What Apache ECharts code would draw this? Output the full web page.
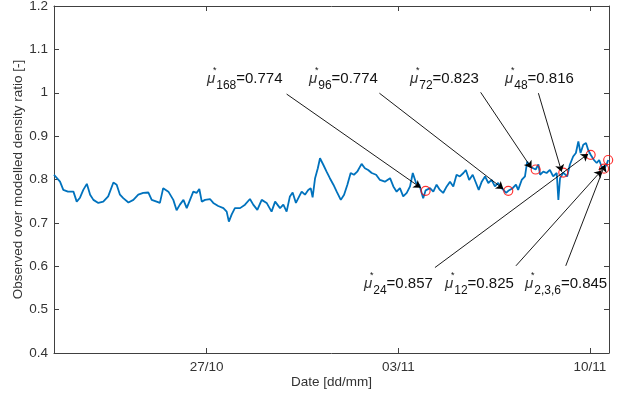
<!DOCTYPE html>
<html>
<head>
<meta charset="utf-8">
<script src="https://cdn.jsdelivr.net/npm/echarts@6/dist/echarts.min.js"></script>
<style>
  html, body { margin: 0; padding: 0; background: #fff; }
  #chart { width: 620px; height: 396px; }
</style>
</head>
<body>
<div id="chart"></div>
<script>
// x = days since 27/10 00:00
const days = [
  -5.58, -5.36, -5.24, -5.07, -4.87, -4.75, -4.63, -4.51, -4.38, -4.26,
  -4.14, -3.96, -3.78, -3.60, -3.41, -3.29, -3.17, -3.05, -2.86, -2.68,
  -2.50, -2.32, -2.13, -2.01, -1.83, -1.71, -1.59, -1.40, -1.22, -1.10,
  -0.98, -0.85, -0.73, -0.61, -0.49, -0.37, -0.27, -0.18, -0.06, 0.12,
  0.24, 0.42, 0.61, 0.73, 0.81, 0.91, 1.03, 1.22, 1.40, 1.58,
  1.70, 1.85, 2.01, 2.19, 2.37, 2.50, 2.68, 2.80, 2.92, 3.04,
  3.14, 3.26, 3.38, 3.47, 3.59, 3.71, 3.80, 3.87, 3.96, 4.06,
  4.14, 4.26, 4.38, 4.50, 4.63, 4.75, 4.90, 5.02, 5.14, 5.26,
  5.38, 5.50, 5.66, 5.78, 5.90, 6.03, 6.19, 6.33, 6.51, 6.70,
  6.82, 6.94, 7.06, 7.18, 7.31, 7.43, 7.53, 7.65, 7.77, 7.91,
  8.00, 8.16, 8.28, 8.40, 8.52, 8.64, 8.77, 8.89, 9.01, 9.13,
  9.25, 9.38, 9.47, 9.59, 9.72, 9.84, 9.94, 10.05, 10.17, 10.29,
  10.41, 10.53, 10.65, 10.78, 10.94, 11.02, 11.18, 11.30, 11.38, 11.51,
  11.63, 11.71, 11.81, 11.93, 12.02, 12.12, 12.18, 12.30, 12.42, 12.54,
  12.66, 12.79, 12.85, 12.91, 13.03, 13.17, 13.27, 13.39, 13.49, 13.58,
  13.66, 13.76, 13.86, 13.94, 14.03, 14.15, 14.25, 14.34, 14.43, 14.52,
  14.61, 14.67
];
const ratio = [
  0.811, 0.795, 0.776, 0.772, 0.772, 0.749, 0.758, 0.776, 0.790, 0.765,
  0.753, 0.746, 0.749, 0.761, 0.793, 0.788, 0.765, 0.757, 0.747, 0.753,
  0.765, 0.769, 0.770, 0.753, 0.749, 0.746, 0.780, 0.772, 0.753, 0.729,
  0.742, 0.753, 0.734, 0.753, 0.772, 0.769, 0.778, 0.749, 0.753, 0.755,
  0.746, 0.739, 0.734, 0.726, 0.703, 0.719, 0.734, 0.734, 0.742, 0.755,
  0.742, 0.730, 0.753, 0.746, 0.726, 0.749, 0.734, 0.742, 0.726, 0.761,
  0.770, 0.746, 0.761, 0.772, 0.765, 0.776, 0.780, 0.759, 0.803, 0.826,
  0.849, 0.834, 0.818, 0.803, 0.788, 0.772, 0.753, 0.765, 0.788, 0.815,
  0.811, 0.818, 0.836, 0.826, 0.822, 0.815, 0.811, 0.799, 0.795, 0.803,
  0.784, 0.772, 0.780, 0.761, 0.769, 0.784, 0.815, 0.792, 0.788, 0.757,
  0.775, 0.780, 0.772, 0.788, 0.776, 0.769, 0.784, 0.795, 0.784, 0.811,
  0.807, 0.815, 0.822, 0.799, 0.811, 0.792, 0.776, 0.795, 0.807, 0.792,
  0.799, 0.784, 0.792, 0.780, 0.769, 0.774, 0.780, 0.788, 0.776, 0.799,
  0.807, 0.841, 0.830, 0.826, 0.823, 0.835, 0.811, 0.818, 0.815, 0.822,
  0.807, 0.815, 0.753, 0.803, 0.816, 0.807, 0.834, 0.853, 0.861, 0.888,
  0.861, 0.880, 0.884, 0.868, 0.857, 0.845, 0.838, 0.845, 0.830, 0.825,
  0.834, 0.845
];

const tickDays = [0, 7, 14];
const tickLabels = ['27/10', '03/11', '10/11'];

// highlighted window means
const markSubs = ['168', '96', '72', '48', '24', '12', '2,3,6'];
const markDays = [8.00, 11.02, 12.02, 13.03, 14.03, 14.52, 14.67];
const markValues = [0.774, 0.774, 0.823, 0.816, 0.857, 0.825, 0.845];

// arrow start (near label) and tip, in data units
const arrowFrom = [[2.92, 0.997], [6.31, 0.999], [10.01, 1.001], [12.12, 0.999], [8.34, 0.597], [11.30, 0.601], [13.12, 0.601]];
const arrowTo = [[7.82, 0.781], [10.84, 0.778], [11.87, 0.826], [12.97, 0.818], [13.94, 0.859], [14.43, 0.821], [14.55, 0.834]];

// label box positions (px)
const labelPos = [[207, 65], [309, 65], [410, 65], [505, 65], [364, 270], [445, 270], [525, 270]];

const chart = echarts.init(document.getElementById('chart'));
const font = "'Liberation Sans', Arial, Helvetica, sans-serif";
const axisColor = '#404040';
const textColor = '#333';

const graphics = [];
markSubs.forEach((s, i) => {
  const [x, y] = labelPos[i];
  graphics.push({
    type: 'text', x: x, y: y, z: 100,
    style: {
      text: '{mu|μ}{sub|' + s + '}{main|=' + markValues[i].toFixed(3) + '}',
      verticalAlign: 'top',
      rich: {
        mu: { fontFamily: font, fontSize: 15, fontStyle: 'italic', fill: '#333', lineHeight: 27, verticalAlign: 'middle' },
        sub: { fontFamily: font, fontSize: 12, fill: '#111', lineHeight: 12, verticalAlign: 'bottom', padding: [0, 0, 0, 1] },
        main: { fontFamily: font, fontSize: 15, fill: '#111', lineHeight: 27, verticalAlign: 'middle' }
      }
    }
  });
  graphics.push({
    type: 'text', x: x + 6, y: y + 6, z: 100,
    style: { text: '*', fontFamily: font, fontSize: 9, fill: '#111', align: 'left', verticalAlign: 'middle' }
  });
});

const tickStyle = { inside: true, length: 5, lineStyle: { color: axisColor, width: 1 } };

chart.setOption({
  animation: false,
  backgroundColor: '#fff',
  grid: { left: 54, right: 11, top: 6, bottom: 43, containLabel: false, outerBoundsMode: 'none' },
  xAxis: [{
    type: 'value', min: -5.58, max: 14.70,
    name: 'Date [dd/mm]', nameLocation: 'middle', nameGap: 22, nameMoveOverlap: false,
    nameTextStyle: { fontFamily: font, fontSize: 13.5, color: textColor },
    axisLine: { show: true, onZero: false, lineStyle: { color: axisColor, width: 1 } },
    axisTick: Object.assign({ customValues: tickDays }, tickStyle),
    axisLabel: {
      customValues: tickDays, margin: 7,
      fontFamily: font, fontSize: 13.5, color: textColor,
      formatter: v => tickLabels[tickDays.indexOf(v)]
    },
    splitLine: { show: false }
  }, {
    type: 'value', position: 'top', min: -5.58, max: 14.70,
    axisLine: { show: true, onZero: false, lineStyle: { color: axisColor, width: 1 } },
    axisTick: Object.assign({ customValues: tickDays }, tickStyle),
    axisLabel: { show: false },
    splitLine: { show: false }
  }],
  yAxis: [{
    type: 'value', min: 0.4, max: 1.2, interval: 0.1,
    name: 'Observed over modelled density ratio [-]', nameLocation: 'middle', nameGap: 29, nameMoveOverlap: false,
    nameTextStyle: { fontFamily: font, fontSize: 13.5, color: textColor },
    axisLine: { show: true, onZero: false, lineStyle: { color: axisColor, width: 1 } },
    axisTick: tickStyle,
    axisLabel: { margin: 6, fontFamily: font, fontSize: 13.5, color: textColor },
    splitLine: { show: false }
  }, {
    type: 'value', position: 'right', min: 0.4, max: 1.2, interval: 0.1,
    axisLine: { show: true, onZero: false, lineStyle: { color: axisColor, width: 1 } },
    axisTick: tickStyle,
    axisLabel: { show: false },
    splitLine: { show: false }
  }],
  series: [{
    type: 'line',
    data: days.map((d, i) => [d, ratio[i]]),
    showSymbol: false,
    lineStyle: { color: '#0072BD', width: 1.8 },
    silent: true,
    z: 2
  }, {
    type: 'scatter',
    data: markDays.map((d, i) => [d, markValues[i]]),
    symbol: 'circle',
    symbolSize: 9,
    itemStyle: { color: 'rgba(0,0,0,0)', borderColor: '#ff0000', borderWidth: 1.2 },
    silent: true,
    z: 3,
    markLine: {
      silent: true,
      symbol: ['none', 'arrow'],
      symbolSize: 7,
      label: { show: false },
      lineStyle: { color: '#000', width: 0.9, type: 'solid' },
      data: arrowFrom.map((p, i) => [{ coord: p }, { coord: arrowTo[i] }])
    }
  }],
  graphic: graphics
});
</script>
</body>
</html>
